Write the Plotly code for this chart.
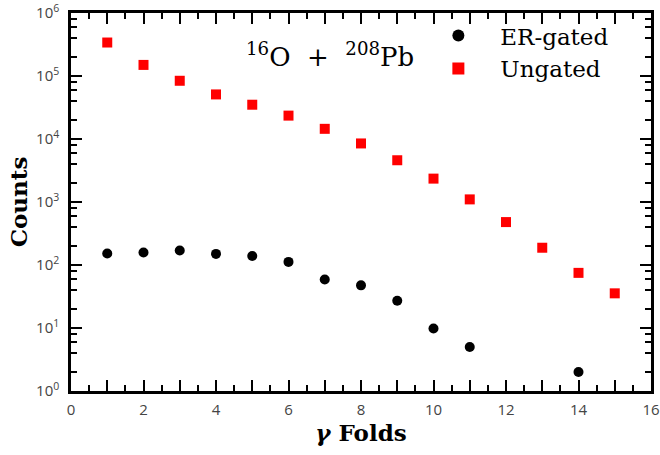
import plotly.graph_objects as go

# Data
folds = [1, 2, 3, 4, 5, 6, 7, 8, 9, 10, 11, 12, 13, 14, 15]
ungated = [3.4e5, 1.5e5, 8.4e4, 5.1e4, 3.5e4, 2.35e4, 1.45e4, 8.5e3, 4.6e3, 2.35e3, 1.1e3, 480, 188, 75, 35.5]

er_folds = [1, 2, 3, 4, 5, 6, 7, 8, 9, 10, 11, 14]
er_gated = [152, 158, 170, 150, 139, 112, 59, 47.5, 27, 9.8, 5.0, 2.0]

x_tickvals = list(range(0, 17))
x_ticktext = [str(v) if v % 2 == 0 else "" for v in x_tickvals]
y_tickvals = [1, 10, 100, 1e3, 1e4, 1e5, 1e6]
y_ticktext = ["10<sup>%d</sup>" % i for i in range(7)]
y_minor = [m * 10 ** d for d in range(6) for m in (2, 4, 6, 8)]

NB = "\u00a0"

fig = go.Figure()
fig.add_trace(go.Scatter(
    x=er_folds, y=er_gated, mode="markers", name=NB * 3 + "ER-gated",
    legendgroup="a",
    marker=dict(symbol="circle", size=10, color="black"),
))
fig.add_trace(go.Scatter(
    x=folds, y=ungated, mode="markers", name=NB * 3 + "Ungated",
    legendgroup="b",
    marker=dict(symbol="square", size=10, color="#ff0000"),
))

axis_common = dict(
    showline=True, linecolor="black", linewidth=2.5, mirror="ticks",
    ticks="inside", tickcolor="black", tickwidth=2, ticklen=11,
    showgrid=False, zeroline=False, ticklabeloverflow="allow",
    tickfont=dict(family="Open Sans", size=15, color="#444"),
)

fig.update_xaxes(
    range=[0, 16], tickmode="array", tickvals=x_tickvals, ticktext=x_ticktext,
    minor=dict(ticks="inside", dtick=0.5, tick0=0, ticklen=6, tickwidth=2, tickcolor="black"),
    ticklabelstandoff=3,
    title=dict(text="<b><i>γ</i> Folds</b>", font=dict(family="DejaVu Serif", size=23, color="black"), standoff=0),
    **axis_common,
)
fig.update_yaxes(
    type="log", range=[0, 6], tickmode="array", tickvals=y_tickvals, ticktext=y_ticktext,
    minor=dict(ticks="inside", tickmode="array", tickvals=y_minor, ticklen=6, tickwidth=2, tickcolor="black"),
    ticklabelstandoff=6,
    title=dict(text="<b>Counts</b>", font=dict(family="DejaVu Serif", size=23, color="black"), standoff=3),
    **axis_common,
)

fig.add_annotation(
    x=0.447, y=0.889, xref="paper", yref="paper",
    text="<sup>16</sup>O" + NB * 2 + "+" + NB * 2 + "<sup>208</sup>Pb", showarrow=False,
    font=dict(family="DejaVu Serif", size=26, color="black"),
    xanchor="center", yanchor="middle",
)

fig.update_layout(
    width=660, height=455,
    margin=dict(l=71, r=9, t=13, b=64, autoexpand=False),
    paper_bgcolor="white", plot_bgcolor="white",
    showlegend=True,
    legend=dict(
        x=0.6334, y=0.997, xanchor="left", yanchor="top",
        font=dict(family="DejaVu Serif", size=23, color="black"),
        bgcolor="rgba(0,0,0,0)", tracegroupgap=0, itemsizing="constant",
    ),
)

fig.write_html(
    "out.html",
    config={"displayModeBar": False},
    post_script="document.body.style.margin='0';",
)
